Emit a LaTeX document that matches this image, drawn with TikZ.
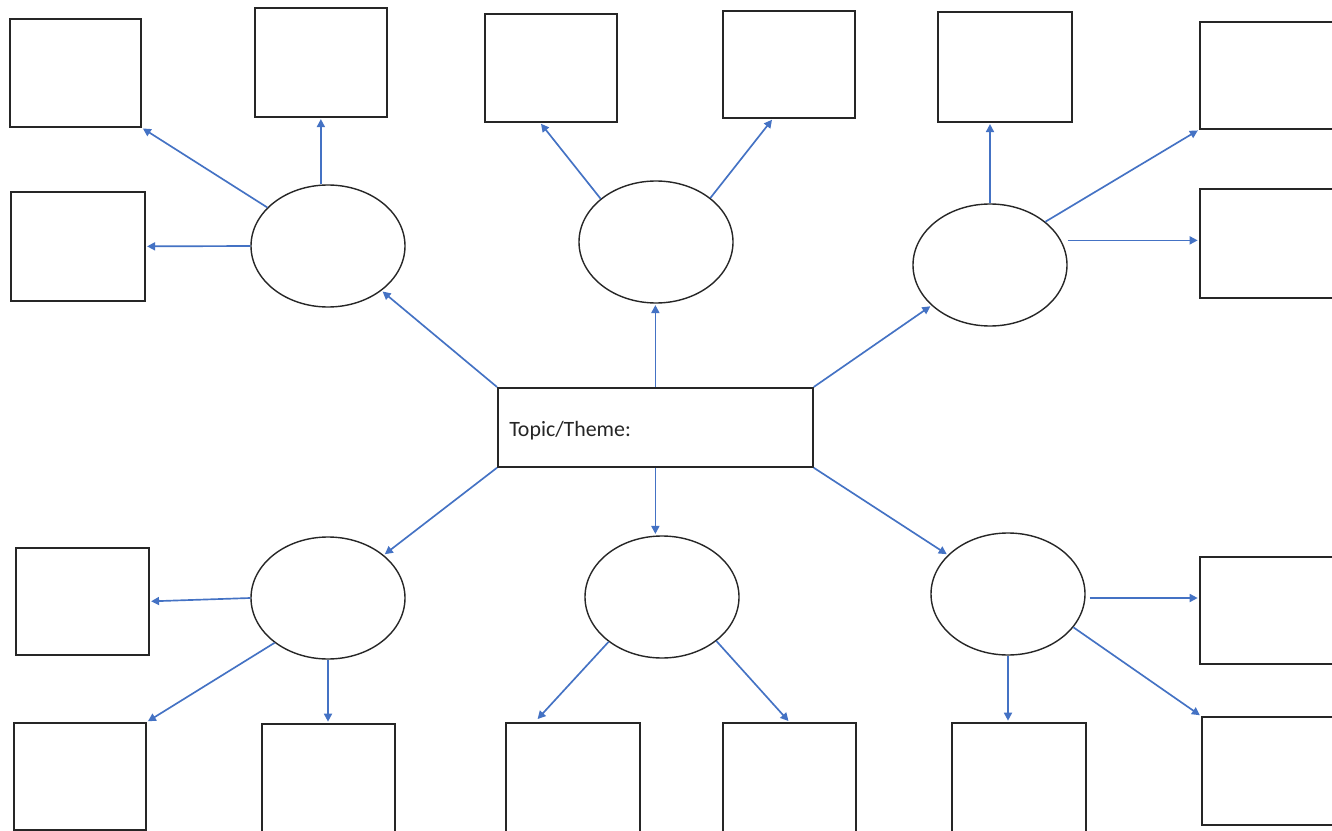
\documentclass[tikz,border=0pt]{standalone}
\usepackage{fontspec}
\setmainfont{Carlito}
\usetikzlibrary{arrows.meta,shapes.geometric,calc}
\definecolor{arrowblue}{RGB}{68,114,196}
\begin{document}
\begin{tikzpicture}[x=0.75pt,y=-0.75pt,
  rbox/.style={draw=black!85, line width=1.3pt, inner sep=0, anchor=north west},
  sz/.style 2 args={minimum width=#1*0.75pt, minimum height=#2*0.75pt},
  oval/.style={ellipse, draw=black!85, line width=1.05pt, minimum width=115.5pt, minimum height=91.5pt, inner sep=0},
  link/.style={draw=arrowblue, line width=1.25pt, -{Triangle[length=6pt,width=6pt]}, shorten >=1pt}]
\useasboundingbox (0,0) rectangle (1332,831);
\clip (0,0) rectangle (1332,831);
\fill[white] (0,0) rectangle (1332,831);

% centre
\node[rbox, sz={315}{79}] (c) at (497,387) {};
\node[anchor=base west, inner sep=0, text=black!85, font=\fontsize{16.4}{19}\selectfont] (t) at ($(c.south west)+(12,-31)$) {Topic/Theme:};

% ovals
\node[oval] (e1) at (328,246) {};
\node[oval] (e2) at (656,242) {};
\node[oval] (e3) at (990,265) {};
\node[oval] (e4) at (328,598) {};
\node[oval] (e5) at (662,597) {};
\node[oval] (e6) at (1008,594) {};

% boxes
\node[rbox, sz={131}{108}] (b1) at (9,18) {};
\node[rbox, sz={132}{109}] (b2) at (254,7) {};
\node[rbox, sz={134}{109}] (b3) at (10,191) {};
\node[rbox, sz={132}{108}] (b4) at (484,13) {};
\node[rbox, sz={132}{107}] (b5) at (722,10) {};
\node[rbox, sz={134}{110}] (b6) at (937,11) {};
\node[rbox, sz={134}{107}] (b7) at (1199,21) {};
\node[rbox, sz={134}{109}] (b8) at (1199,188) {};
\node[rbox, sz={133}{107}] (b9) at (15,547) {};
\node[rbox, sz={132}{107}] (b10) at (13,722) {};
\node[rbox, sz={133}{112}] (b11) at (261,723) {};
\node[rbox, sz={134}{112}] (b12) at (505,722) {};
\node[rbox, sz={133}{112}] (b13) at (722,722) {};
\node[rbox, sz={134}{112}] (b14) at (951,722) {};
\node[rbox, sz={134}{107}] (b15) at (1199,556) {};
\node[rbox, sz={134}{108}] (b16) at (1201,716) {};

% centre to ovals
\draw[link] (c.north west) -- (e1);
\draw[link] (c.north) -- (c.north |- e2.south);
\draw[link] (c.north east) -- (e3);
\draw[link] (c.south west) -- (e4);
\draw[link] (c.south) -- (c.south |- e5.north);
\draw[link] (c.south east) -- (e6);

% ovals to boxes
\draw[link] (e1) -- (b1.south east);
\draw[link] (b2.south |- e1.north) -- (b2.south);
\draw[link] (e1.west) -- (b3.east);
\draw[link] (e2.142) -- ($(b4.south west)!0.42!(b4.south east)$);
\draw[link] (e2.39) -- ($(b5.south west)!0.38!(b5.south east)$);
\draw[link] (e3.north) -- (e3.north |- b6.south);
\draw[link] (e3.38) -- (b7.south west);
\draw[link] ($(e3.east |- b8.west)+(0,-3)$) -- ($(b8.west)+(0,-3)$);
\draw[link] (e4.west) -- (b9.east);
\draw[link] (e4.220) -- (b10.north east);
\draw[link] (e4.south) -- (e4.south |- b11.north);
\draw[link, shorten >=3pt] (e5.220) -- ($(b12.north west)!0.22!(b12.north east)$);
\draw[link] (e5.321) -- (b13.north);
\draw[link] (e6.south) -- (e6.south |- b14.north);
\draw[link] ($(e6.east)+(4,4)$) -- ($(e6.east -| b15.west)+(0,4)$);
\draw[link] (e6.333) -- (b16.north west);
\end{tikzpicture}
\end{document}
